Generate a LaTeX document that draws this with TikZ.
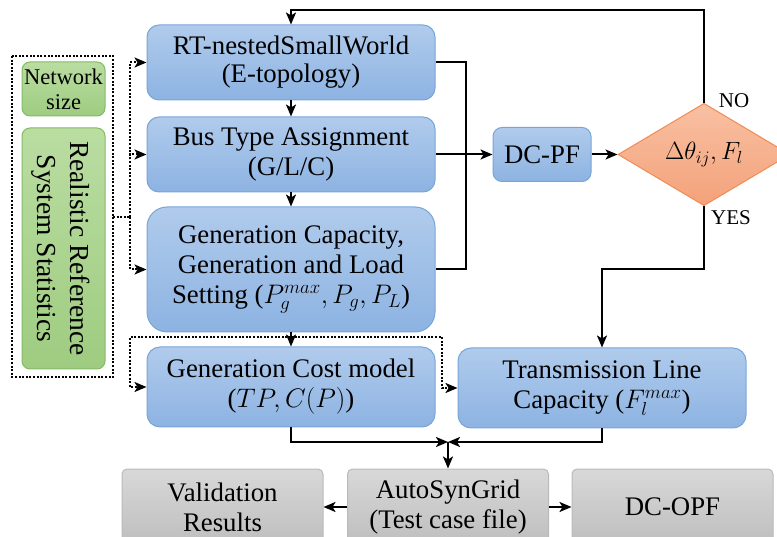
\RequirePackage{fix-cm}
\documentclass[tikz,border=0pt]{standalone}
\usepackage{fontspec}
\setmainfont{Liberation Serif}
\newfontfamily\boxfont{Liberation Serif}
\usetikzlibrary{arrows.meta,shapes.geometric,calc}

\definecolor{bluetop}{RGB}{176,203,236}
\definecolor{bluebot}{RGB}{141,179,226}
\definecolor{blueedge}{RGB}{120,165,216}
\definecolor{greentop}{RGB}{186,221,162}
\definecolor{greenbot}{RGB}{158,204,128}
\definecolor{greenedge}{RGB}{132,186,102}
\definecolor{graytop}{RGB}{216,216,216}
\definecolor{graybot}{RGB}{190,190,190}
\definecolor{grayedge}{RGB}{186,186,186}
\definecolor{orangetop}{RGB}{249,192,163}
\definecolor{orangebot}{RGB}{243,162,122}
\definecolor{orangeedge}{RGB}{240,140,82}

\tikzset{
  txt/.style={font=\boxfont\fontsize{26.8}{30}\selectfont, align=center, text=black},
  bbox/.style={txt, draw=blueedge, line width=1pt, top color=bluetop, bottom color=bluebot, inner sep=0pt},
  gbox/.style={draw=greenedge, line width=1pt, top color=greentop, bottom color=greenbot, inner sep=0pt, rounded corners=8pt},
  ybox/.style={txt, draw=grayedge, line width=1pt, top color=graytop, bottom color=graybot, inner sep=0pt, rounded corners=5pt, minimum width=201, minimum height=76},
  dia/.style={txt, font=\boxfont\fontsize{25}{28}\selectfont, diamond, draw=orangeedge, line width=1pt, top color=orangetop, bottom color=orangebot, inner sep=0pt, minimum width=172, minimum height=75},
  flow/.style={line width=2pt, -{Stealth[length=12pt,width=10pt,inset=3pt]}},
  solidlink/.style={line width=2pt},
  dotflow/.style={line width=2pt, dash pattern=on 2pt off 1.6pt, -{Stealth[length=12pt,width=10pt,inset=3pt]}},
  dotlink/.style={line width=2pt, dash pattern=on 2pt off 1.6pt},
  lbl/.style={font=\boxfont\fontsize{21}{24}\selectfont, inner sep=0pt}
}

\begin{document}
\begin{tikzpicture}[x=1pt,y=-1pt]
\useasboundingbox (0,0) rectangle (777,537);

% main process boxes
\node[bbox, rounded corners=12pt, minimum width=288, minimum height=75] (rt) at (291,62.5) {RT-nestedSmallWorld\\[-2pt](E-topology)};
\node[bbox, rounded corners=12pt, minimum width=288, minimum height=75] (bus) at (291,154.5) {Bus Type Assignment\\(G/L/C)};
\node[bbox, rounded corners=20pt, minimum width=288, minimum height=125] (gen) at (291,269.5) {Generation Capacity,\\Generation and Load\\Setting ($P_g^{max}, P_g, P_L$)};
\node[bbox, rounded corners=13pt, minimum width=288, minimum height=80] (cost) at (291,387) {Generation Cost model\\($TP, C(P)$)};
\node[bbox, rounded corners=13pt, minimum width=288, minimum height=80] (tl) at (602,388) {Transmission Line\\Capacity ($F_l^{max}$)};
\node[bbox, rounded corners=9pt, minimum width=98, minimum height=54] (pf) at (542,154.5) {DC-PF};
\node[dia] (chk) at (704,154.5) {$\Delta\theta_{ij}, F_l$};

% output boxes
\node[ybox] (val) at (222.5,507) {Validation\\Results};
\node[ybox] (auto) at (448,507) {AutoSynGrid\\(Test case file)};
\node[ybox] (opf) at (672.5,507) {DC-OPF};

% input statistics
\node[gbox, minimum width=83, minimum height=54] (size) at (63.5,89) {};
\node[txt, font=\boxfont\fontsize{22.5}{25}\selectfont] (sizetxt) at (63.5,89) {Network\\size};
\node[gbox, minimum width=83, minimum height=241] (stat) at (63.5,248.5) {};
\node[txt, rotate=-90, font=\boxfont\fontsize{27.5}{33}\selectfont] (stattxt) at (61,248.5) {Realistic Reference\\System Statistics};
\draw[dotlink] (12,56) rectangle (113,377);
\coordinate (inp) at (113,217);

% solid flow
\draw[flow] (rt) -- (bus);
\draw[flow] (bus) -- (gen);
\draw[flow] (gen) -- (cost);
\draw[solidlink] (rt.east) -- ++(30,0) coordinate (rtj) |- (gen.east);
\draw[flow] (bus.east) -- (pf.west);
\draw[flow] (pf.east) -- (chk.west);
\draw[flow] (chk.north) -- (704,10) -| (rt.north);
\draw[flow] (chk.south) -- (704,269) -| (tl.north);
\node[lbl] (no) at (734,101) {NO};
\node[lbl] (yes) at (731,218) {YES};

% merge into the test case file
\coordinate (mrg) at (448,442);
\draw[flow] (cost.south) |- (mrg);
\draw[flow] (tl.south) |- (mrg);
\draw[flow] (mrg) -- (auto.north);
\draw[flow] (auto.west) -- (val.east);
\draw[flow] (auto.east) -- (opf.west);

% dotted data paths
\draw[dotlink] (inp) -- (130,217) coordinate (dv);
\draw[dotflow] (dv) |- (rt.west);
\draw[dotflow] (dv) |- (bus.west);
\draw[dotflow] (dv) |- (gen.west);
\coordinate (gs) at (291,337);
\draw[dotflow] (gs) -- (130,337) |- (cost.west);
\draw[dotflow] (gs) -- (442,337) |- (tl.west);
\end{tikzpicture}
\end{document}
